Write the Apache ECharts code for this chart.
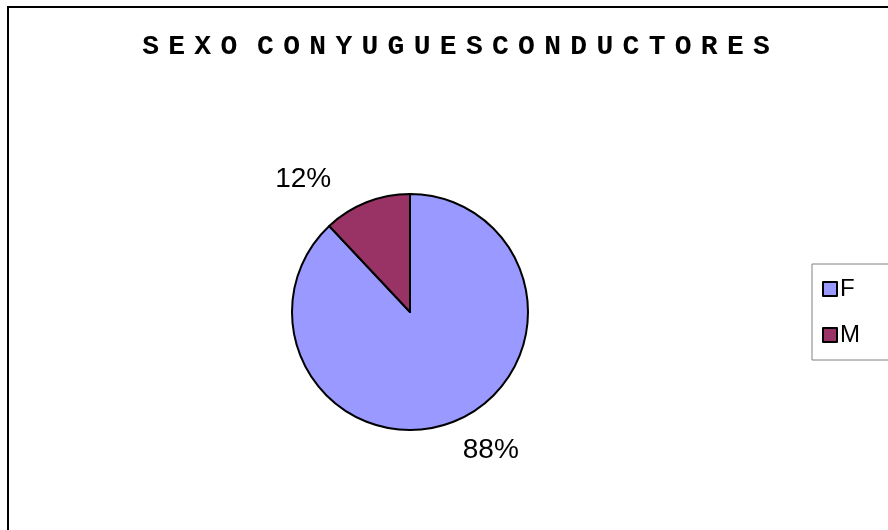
<!DOCTYPE html>
<html>
<head>
<meta charset="utf-8">
<script src="https://cdn.jsdelivr.net/npm/echarts@6/dist/echarts.min.js"></script>
<style>
    html, body { margin: 0; padding: 0; background: #fff; }
    #chart { width: 888px; height: 530px; }
</style>
</head>
<body>
<div id="chart"></div>
<script>
    // datos del gráfico
    const categories = ['F', 'M'];
    const values = [88, 12];
    const colors = ['#9999FF', '#993366'];
    const titleWords = ['SEXO', 'CONYUGUES', 'CONDUCTORES'];

    // título espaciado letra a letra (rich text)
    const spaced = w => w.split('').map(c => `{l|${c}}`).join('{s| }');
    const titleText = spaced(titleWords[0]) + '{w| }' + spaced(titleWords[1]) + '{s| }' + spaced(titleWords[2]);

    const chart = echarts.init(document.getElementById('chart'));

    const option = {
        animation: false,
        title: {
            text: titleText,
            left: 451,
            top: 27,
            textAlign: 'center',
            textStyle: {
                rich: {
                    l: { fontFamily: 'Liberation Mono', fontWeight: 'bold', fontSize: 28, color: '#000', lineHeight: 30 },
                    s: { fontFamily: 'Liberation Mono', fontSize: 15.5, lineHeight: 30 },
                    w: { fontFamily: 'Liberation Mono', fontSize: 33, lineHeight: 30 }
                }
            }
        },
        legend: {
            orient: 'vertical',
            left: 812,
            top: 264,
            padding: [12, 60, 12, 10],
            itemWidth: 14,
            itemHeight: 14,
            itemGap: 20,
            icon: 'rect',
            borderColor: '#808080',
            borderWidth: 1,
            data: categories,
            itemStyle: {
                borderColor: '#000',
                borderWidth: 2
            },
            textStyle: {
                fontFamily: 'Liberation Sans',
                fontSize: 24,
                lineHeight: 26,
                color: '#000',
                padding: [0, 0, 0, -2]
            }
        },
        graphic: [
            {
                type: 'rect',
                shape: { x: 8, y: 7, width: 900, height: 600 },
                style: { fill: 'none', stroke: '#000', lineWidth: 2 },
                silent: true
            }
        ],
        series: [
            {
                type: 'pie',
                center: [410, 312],
                radius: 118,
                startAngle: 90,
                clockwise: true,
                data: categories.map((name, i) => ({
                    name,
                    value: values[i],
                    itemStyle: { color: colors[i] }
                })),
                itemStyle: {
                    borderColor: '#000',
                    borderWidth: 2
                },
                label: {
                    show: true,
                    position: 'outside',
                    formatter: '{d}%',
                    fontFamily: 'Liberation Sans',
                    fontSize: 28,
                    color: '#000'
                },
                labelLine: { show: false, length: 20, length2: 0 },
                labelLayout: params => (params.dataIndex === 1 ? { dx: -23, dy: -4 } : { dx: -3, dy: 10 }),
                emphasis: { disabled: true }
            }
        ]
    };

    chart.setOption(option);
</script>
</body>
</html>
